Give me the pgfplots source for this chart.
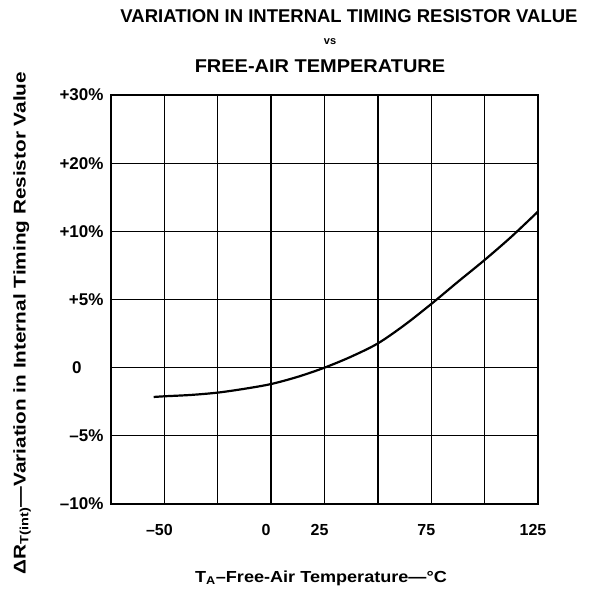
\documentclass[border=0pt]{standalone}
\usepackage{pgfplots}
\pgfplotsset{compat=1.18}
\usepackage{fontspec}
\setmainfont{Liberation Sans}
\begin{document}
\begin{tikzpicture}[x=1pt,y=1pt]
\useasboundingbox (0,0) rectangle (599,593);
\begin{axis}[
  at={(111pt,89pt)}, anchor=south west,
  scale only axis, width=427pt, height=409pt,
  xmin=-75, xmax=125, ymin=-10, ymax=30,
  y coord trafo/.code={\pgfmathparse{(min(#1,10)+10)/5+max(#1-10,0)/10}},
  xtick={-75,-50,-25,0,25,50,75,100,125},
  xticklabels={,--50,,0,25,,75,,125},
  ytick={-10,-5,0,5,10,20,30},
  yticklabels={--10\%,--5\%,0\kern22pt,+5\%,+10\%,+20\%,+30\%},
  grid=major,
  major grid style={black, line width=1.3pt},
  axis line style={black, line width=1.3pt},
  major tick length=0pt,
  xticklabel style={font=\fontsize{16}{16}\selectfont\bfseries, yshift=-17pt, xshift=-5pt},
  yticklabel style={font=\fontsize{17}{17}\selectfont\bfseries, xshift=-4pt},
]
\addplot[black, line width=2.2pt, smooth] coordinates {
(-55,-2.15) (-50,-2.1) (-37.5,-2.0) (-25,-1.83) (-12.5,-1.55) (0,-1.2) (12.5,-0.67)
(25,0.0) (37.5,0.81) (50,1.78) (62.5,3.13) (75,4.67) (87.5,6.3) (100,7.9) (112.5,9.6) (125,12.9)
};
\end{axis}
\node[font=\fontsize{18.5}{18.5}\selectfont\bfseries] at (349,577) {VARIATION IN INTERNAL TIMING RESISTOR VALUE};
\node[font=\fontsize{11}{11}\selectfont\bfseries] at (330,551) {vs};
\node[font=\fontsize{18.5}{18.5}\selectfont\bfseries] at (320,527) {\scalebox{1.08}[1]{FREE-AIR TEMPERATURE}};
\node[font=\fontsize{16}{16}\selectfont\bfseries] at (321,15) {\scalebox{1.13}[1]{T\textsubscript{A}--Free-Air Temperature---\textdegree C}};
\node[font=\fontsize{17}{17}\selectfont\bfseries, rotate=90] at (22,270) {\scalebox{1.22}[1]{ΔR\textsubscript{T(int)}---Variation in Internal Timing Resistor Value}};
\end{tikzpicture}
\end{document}
